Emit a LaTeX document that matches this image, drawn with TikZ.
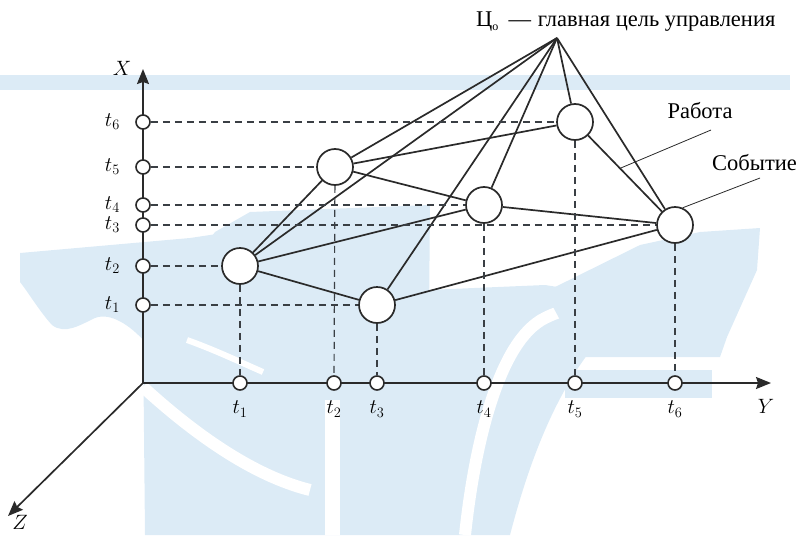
\documentclass[tikz,border=0pt]{standalone}
\usepackage[no-math]{fontspec}
\setmainfont{Liberation Serif}
\usetikzlibrary{arrows.meta,calc}
\definecolor{wm}{HTML}{DCEBF6}
\definecolor{ink}{HTML}{2A2A2A}
\definecolor{dash}{HTML}{3A3F44}
\pgfdeclarelayer{wmk}
\pgfdeclarelayer{bg}
\pgfsetlayers{wmk,bg,main}
\begin{document}
\begin{tikzpicture}[x=1pt,y=-1pt,
 ev/.style={circle,draw=ink,fill=white,line width=1.7pt,minimum size=36pt,inner sep=0pt},
 tick/.style={circle,draw=ink,fill=white,line width=1.6pt,minimum size=14pt,inner sep=0pt},
 edge/.style={draw=ink,line width=1.7pt},
 proj/.style={draw=dash,line width=1.2pt,dash pattern=on 7pt off 5pt},
 axis/.style={draw=ink,line width=1.7pt,-{Stealth[length=15pt,width=12pt,inset=2pt]}},
 lab/.style={font=\fontsize{21}{23}\selectfont,inner sep=0pt},
 txt/.style={font=\fontsize{22.5}{26}\selectfont,inner sep=0pt},
 ptr/.style={draw=ink,line width=0.8pt},
 wst/.style={draw=white,line width=12pt,line cap=butt}]
\useasboundingbox (0,0) rectangle (799,535);
% watermark
\begin{pgfonlayer}{wmk}
\fill[wm] (0,75) rectangle (790,90);
% left wing
\fill[wm] (20,253) -- (190,238) -- (230,232) -- (235,300) -- (145,342)
  .. controls (130,325) and (110,312) .. (95,318)
  .. controls (80,325) and (65,335) .. (52,325)
  .. controls (40,312) and (28,292) .. (20,282) -- cycle;
% central body
\fill[wm] (215,232) -- (250,212) -- (430,205) -- (427,535) -- (145,535) -- (143,330) -- cycle;
\draw[wst] (143,387) .. controls (190,430) and (250,475) .. (310,490);
\draw[white,line width=6pt] (187,340) .. controls (215,350) and (240,362) .. (263,372);
\fill[white] (325,400) rectangle (340,535);
% arc zone
\fill[wm] (427,535) -- (427,290) -- (545,285) -- (640,300)
  .. controls (590,340) and (545,400) .. (510,535) -- cycle;
\draw[wst] (465,535) .. controls (475,440) and (500,340) .. (545,318)
  .. controls (570,305) and (600,305) .. (625,315);
% right flag
\fill[wm] (545,292) -- (640,245) -- (700,232) -- (760,228) -- (757,270)
  -- (727,337) -- (720,357) -- (580,357) -- cycle;
\fill[wm] (565,370) rectangle (712,398);
\end{pgfonlayer}
% axes
\coordinate (O) at (143,383);
\coordinate (Xt) at (143,69);
\coordinate (Yt) at (771,383);
\coordinate (Zt) at (8,516);
\node[lab] (Xl) at (122,68) {$X$};
\node[lab] (Yl) at (766,406) {$Y$};
\node[lab] (Zl) at (20,522) {$Z$};
% ticks on X
\node[tick] (x1) at (143,305) {};
\node[tick] (x2) at (143,266) {};
\node[tick] (x3) at (143,225) {};
\node[tick] (x4) at (143,205) {};
\node[tick] (x5) at (143,167) {};
\node[tick] (x6) at (143,122) {};
\foreach \i/\yy in {1/305,2/266,3/225,4/205,5/167,6/122}
  \node[lab,anchor=east] (lx\i) at (120,\yy) {$t_{\i}$};
% ticks on Y
\node[tick] (y1) at (240,383) {};
\node[tick] (y2) at (334,383) {};
\node[tick] (y3) at (377,383) {};
\node[tick] (y4) at (484,383) {};
\node[tick] (y5) at (575,383) {};
\node[tick] (y6) at (675,383) {};
\foreach \i/\xx in {1/240,2/334,3/377,4/484,5/575,6/675}
  \node[lab,anchor=north] (ly\i) at (\xx,401) {$t_{\i}$};
% events
\node[ev] (A) at (240,266) {};
\node[ev] (B) at (335,167) {};
\node[ev] (C) at (484,205) {};
\node[ev] (D) at (377,305) {};
\node[ev] (E) at (575,122) {};
\node[ev] (F) at (675,225) {};
\coordinate (apex) at (557,38);
% texts
\node[txt,anchor=base west] (goal) at (476,27) {Ц\raisebox{-0.3ex}{\fontsize{12}{12}\selectfont о}\hspace{0.45em}—\hspace{0.3em}главная цель управления};
\node[txt] (rab) at (700,111) {Работа};
\node[txt,anchor=west] (sob) at (712,163) {Событие};
\coordinate (rt) at (711,130);
\coordinate (st) at (760,178);
\coordinate (rp) at ($(E)!0.45!(F)$);
\begin{pgfonlayer}{bg}
\draw[axis] (O) -- (Xt);
\draw[axis] (O) -- (Yt);
\draw[axis] (O) -- (Zt);
\foreach \n in {A,B,C,D,E,F} \draw[edge] (apex) -- (\n);
\draw[edge] (A) -- (B);
\draw[edge] (A) -- (C);
\draw[edge] (A) -- (D);
\draw[edge] (B) -- (C);
\draw[edge] (B) -- (E);
\draw[edge] (C) -- (F);
\draw[edge] (D) -- (F);
\draw[edge] (E) -- (F);
\draw[proj] (x6) -- (E);
\draw[proj] (x5) -- (B);
\draw[proj] (x4) -- (C);
\draw[proj] (x3) -- (F);
\draw[proj] (x2) -- (A);
\draw[proj] (x1) -- (D);
\draw[proj] (A) -- (y1);
\draw[proj] (B) -- (y2);
\draw[proj] (D) -- (y3);
\draw[proj] (C) -- (y4);
\draw[proj] (E) -- (y5);
\draw[proj] (F) -- (y6);
\draw[ptr] (rt) -- (rp);
\draw[ptr] (st) -- (F.66);
\end{pgfonlayer}
\end{tikzpicture}
\end{document}
